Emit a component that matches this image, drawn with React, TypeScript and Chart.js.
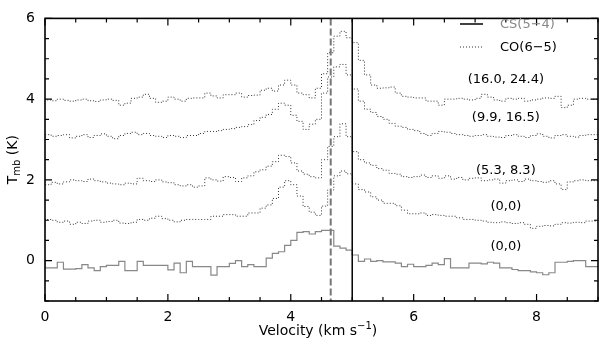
import React, { useEffect, useRef } from 'react';
import { Chart, registerables } from 'chart.js';
Chart.register(...registerables);

// Channel grid (km/s)
const channelStart = 0;
const channelWidth = 0.1;

// CS(5-4) at (0,0)
const csValues = [
  0.02, -0.18, -0.18, -0.04, -0.21, -0.21, -0.2, -0.1, -0.18, -0.25,
  -0.15, -0.12, -0.12, -0.02, -0.25, -0.25, -0.02, -0.12, -0.12, -0.12,
  -0.12, -0.23, -0.06, -0.3, -0.02, -0.15, -0.15, -0.15, -0.36, -0.15,
  -0.15, -0.07, 0.0, -0.15, -0.1, -0.15, -0.15, 0.06, 0.18, 0.22,
  0.38, 0.5, 0.7, 0.72, 0.66, 0.72, 0.75, 0.75, 0.36, 0.31,
  0.26, 0.14, -0.02, 0.04, -0.02, 0.0, -0.03, -0.03, -0.06, -0.15,
  -0.09, -0.15, -0.15, -0.12, -0.06, -0.1, 0.05, -0.18, -0.18, -0.18,
  -0.06, -0.06, -0.08, -0.04, -0.06, -0.18, -0.18, -0.22, -0.25, -0.25,
  -0.28, -0.3, -0.35, -0.3, -0.04, -0.04, -0.02, 0.0, 0.0, -0.15,
];

// CO(6-5) at (0,0), offset +1
const co00Values = [
  0.85, 1.02, 1.0, 0.95, 0.98, 0.9, 0.95, 0.92, 0.98, 1.0,
  0.95, 0.97, 1.0, 0.93, 0.92, 0.95, 1.02, 1.0, 1.05, 1.1,
  1.04, 1.0, 0.96, 1.0, 1.02, 1.02, 1.02, 1.02, 1.1, 1.1,
  1.14, 1.14, 1.1, 1.1, 1.18, 1.18, 1.3, 1.38, 1.54, 1.82,
  1.98, 1.88, 1.6, 1.34, 1.2, 1.12, 1.35, 1.75, 2.1, 2.22,
  2.15, 1.9, 1.76, 1.7, 1.58, 1.5, 1.42, 1.42, 1.36, 1.25,
  1.16, 1.16, 1.18, 1.12, 1.14, 1.12, 1.1, 1.1, 1.06, 1.02,
  1.02, 1.0, 0.98, 0.95, 0.94, 0.96, 0.94, 0.92, 0.94, 0.9,
  0.8, 0.85, 0.87, 0.86, 0.9, 0.94, 0.93, 0.95, 0.94, 0.98,
];

// CO(6-5) at (5.3, 8.3), offset +2
const co53Values = [
  1.95, 1.88, 1.94, 1.9, 1.95, 2.0, 1.98, 1.96, 2.02, 1.98,
  1.95, 1.92, 1.9, 1.88, 1.92, 1.9, 2.04, 1.98, 1.96, 2.0,
  1.95, 1.93, 1.88, 1.85, 1.88, 1.82, 1.85, 2.05, 2.0, 1.97,
  2.08, 2.06, 1.96, 2.05, 2.1, 2.2, 2.25, 2.34, 2.45, 2.61,
  2.58, 2.42, 2.22, 2.14, 2.08, 2.05, 2.5, 2.83, 3.07, 3.39,
  3.07, 2.7, 2.5, 2.42, 2.36, 2.28, 2.24, 2.16, 2.14, 2.08,
  2.06, 2.08, 2.12, 2.06, 2.1, 2.04, 2.1, 2.02, 2.06, 2.0,
  2.04, 2.05, 1.98, 2.0, 2.02, 1.92, 1.98, 2.0, 1.96, 2.02,
  1.98, 1.96, 1.94, 1.98, 1.9, 1.76, 1.95, 1.98, 2.0, 1.98,
];

// CO(6-5) at (9.9, 16.5), offset +3
const co99Values = [
  3.05, 3.12, 3.08, 3.1, 3.12, 3.04, 3.08, 3.12, 3.05, 3.1,
  3.14, 3.08, 3.02, 3.1, 3.15, 3.18, 3.12, 3.15, 3.1, 3.08,
  3.05, 3.1, 3.08, 3.05, 3.1, 3.1, 3.15, 3.2, 3.2, 3.22,
  3.25, 3.27, 3.3, 3.32, 3.37, 3.47, 3.55, 3.62, 3.75, 3.9,
  3.85, 3.6, 3.45, 3.25, 3.38, 3.5, 4.15, 4.55, 4.8, 4.86,
  4.6, 4.25, 3.95, 3.75, 3.67, 3.57, 3.5, 3.4, 3.33, 3.3,
  3.25, 3.22, 3.15, 3.1, 3.15, 3.2, 3.18, 3.15, 3.12, 3.1,
  3.08, 3.1, 3.12, 3.08, 3.06, 3.05, 3.1, 3.12, 3.08, 3.05,
  3.1, 3.14, 3.08, 3.04, 3.1, 3.12, 3.08, 3.06, 3.1, 3.12,
];

// CO(6-5) at (16.0, 24.4), offset +4
const co160Values = [
  4.0, 3.98, 3.96, 4.0, 3.97, 3.95, 3.98, 4.0, 3.96, 3.94,
  3.98, 4.0, 3.97, 3.85, 3.9, 4.02, 4.05, 4.12, 4.02, 3.92,
  3.95, 4.05, 4.0, 3.95, 4.02, 4.03, 4.03, 4.15, 4.08, 4.03,
  4.11, 4.11, 4.15, 4.05, 4.09, 4.1, 4.22, 4.27, 4.2, 4.35,
  4.47, 4.35, 4.15, 4.11, 4.03, 4.27, 4.63, 5.15, 5.56, 5.68,
  5.52, 5.4, 4.96, 4.6, 4.35, 4.27, 4.28, 4.3, 4.15, 4.07,
  4.05, 4.03, 4.03, 3.95, 3.95, 3.85, 4.0, 4.0, 4.02, 4.0,
  3.98, 4.02, 4.12, 4.05, 3.98, 3.95, 4.02, 4.0, 4.02, 3.95,
  3.98, 4.0, 4.03, 4.02, 4.07, 3.79, 3.85, 4.0, 4.02, 4.0,
];

const xMajorTicks = [0, 2, 4, 6, 8];
const yMajorTicks = [0, 2, 4, 6];
const xRange = [0, 9];
const yRange = [-1, 6];
const minorStep = 0.5;

const dashedLineV = 4.65;
const solidLineV = 5.0;

const positionLabels = ['(16.0, 24.4)', '(9.9, 16.5)', '(5.3, 8.3)', '(0,0)', '(0,0)'];
const positionLabelY = [4.49, 3.53, 2.24, 1.35, 0.34];
const positionLabelX = 7.5;

const legendLabels = ['CS(5\u22124)', 'CO(6\u22125)'];

const FONT = "'DejaVu Sans', 'Liberation Sans', Arial, sans-serif";

function toSteps(values: number[]) {
  const pts = values.map((v, i) => ({ x: channelStart + i * channelWidth, y: v }));
  pts.push({ x: channelStart + values.length * channelWidth, y: values[values.length - 1] });
  return pts;
}

const decorPlugin = {
  id: 'decor',
  afterDatasetsDraw(chart: any) {
    const { ctx, chartArea: a, scales } = chart;
    const x = scales.x;
    const y = scales.y;
    ctx.save();

    // vertical reference lines
    ctx.strokeStyle = '#777';
    ctx.lineWidth = 2;
    ctx.setLineDash([7, 3]);
    const xd = x.getPixelForValue(dashedLineV);
    ctx.beginPath();
    ctx.moveTo(xd, a.top);
    ctx.lineTo(xd, a.bottom);
    ctx.stroke();
    ctx.setLineDash([]);
    ctx.strokeStyle = '#000';
    ctx.lineWidth = 1.5;
    const xs = x.getPixelForValue(solidLineV);
    ctx.beginPath();
    ctx.moveTo(xs, a.top);
    ctx.lineTo(xs, a.bottom);
    ctx.stroke();

    // frame
    ctx.lineWidth = 1.6;
    ctx.strokeRect(a.left, a.top, a.right - a.left, a.bottom - a.top);

    // ticks (inward, all four sides)
    ctx.lineWidth = 1.2;
    ctx.beginPath();
    for (let v = xRange[0]; v <= xRange[1] + 1e-6; v += minorStep) {
      const px = x.getPixelForValue(v);
      const len = xMajorTicks.some((t) => Math.abs(t - v) < 1e-6) ? 7 : 4;
      ctx.moveTo(px, a.bottom);
      ctx.lineTo(px, a.bottom - len);
      ctx.moveTo(px, a.top);
      ctx.lineTo(px, a.top + len);
    }
    for (let v = yRange[0]; v <= yRange[1] + 1e-6; v += minorStep) {
      const py = y.getPixelForValue(v);
      const len = yMajorTicks.some((t) => Math.abs(t - v) < 1e-6) ? 7 : 4;
      ctx.moveTo(a.left, py);
      ctx.lineTo(a.left + len, py);
      ctx.moveTo(a.right, py);
      ctx.lineTo(a.right - len, py);
    }
    ctx.stroke();

    // legend
    ctx.lineWidth = 1.5;
    ctx.strokeStyle = '#000';
    ctx.beginPath();
    ctx.moveTo(460, 24);
    ctx.lineTo(483, 24);
    ctx.stroke();
    ctx.lineWidth = 1;
    ctx.strokeStyle = '#333';
    ctx.setLineDash([1, 2]);
    ctx.beginPath();
    ctx.moveTo(460, 47);
    ctx.lineTo(483, 47);
    ctx.stroke();
    ctx.setLineDash([]);
    ctx.font = `13px ${FONT}`;
    ctx.textBaseline = 'middle';
    ctx.textAlign = 'left';
    ctx.fillStyle = '#888';
    ctx.fillText(legendLabels[0], 500, 25);
    ctx.fillStyle = '#000';
    ctx.fillText(legendLabels[1], 500, 48);

    // position labels
    ctx.textAlign = 'center';
    positionLabels.forEach((t, i) => {
      ctx.fillText(t, x.getPixelForValue(positionLabelX), y.getPixelForValue(positionLabelY[i]));
    });

    // x title with superscript
    ctx.textBaseline = 'alphabetic';
    ctx.textAlign = 'left';
    const p1 = 'Velocity (km s';
    const sup = '\u22121';
    const p2 = ')';
    ctx.font = `14px ${FONT}`;
    const w1 = ctx.measureText(p1).width;
    const w3 = ctx.measureText(p2).width;
    ctx.font = `10px ${FONT}`;
    const w2 = ctx.measureText(sup).width;
    const total = w1 + w2 + w3;
    let sx = 318 - total / 2;
    const base = 335;
    ctx.font = `14px ${FONT}`;
    ctx.fillText(p1, sx, base);
    sx += w1;
    ctx.font = `10px ${FONT}`;
    ctx.fillText(sup, sx, base - 6);
    sx += w2;
    ctx.font = `14px ${FONT}`;
    ctx.fillText(p2, sx, base);

    // y title with subscript (rotated)
    ctx.translate(13, (a.top + a.bottom) / 2);
    ctx.rotate(-Math.PI / 2);
    const q1 = 'T';
    const sub = 'mb';
    const q2 = ' (K)';
    ctx.font = `14px ${FONT}`;
    const u1 = ctx.measureText(q1).width;
    const u3 = ctx.measureText(q2).width;
    ctx.font = `10px ${FONT}`;
    const u2 = ctx.measureText(sub).width;
    let ty = -(u1 + u2 + u3) / 2;
    ctx.textBaseline = 'middle';
    ctx.font = `14px ${FONT}`;
    ctx.fillText(q1, ty, 0);
    ty += u1;
    ctx.font = `10px ${FONT}`;
    ctx.fillText(sub, ty, 4);
    ty += u2;
    ctx.font = `14px ${FONT}`;
    ctx.fillText(q2, ty, 0);

    ctx.restore();
  },
};

export default function App() {
  const ref = useRef<HTMLCanvasElement | null>(null);
  useEffect(() => {
    if (!ref.current) return;
    Chart.defaults.font.family = FONT;
    Chart.defaults.font.size = 14;
    Chart.defaults.color = '#000';
    const dotted = (values: number[]) => ({
      data: toSteps(values),
      stepped: 'after' as const,
      borderColor: '#333',
      borderWidth: 1,
      borderDash: [1, 2],
      pointRadius: 0,
      fill: false,
    });
    const chart = new Chart(ref.current, {
      type: 'line',
      data: {
        datasets: [
          {
            data: toSteps(csValues),
            stepped: 'after',
            borderColor: '#888',
            borderWidth: 1.2,
            pointRadius: 0,
            fill: false,
          },
          dotted(co00Values),
          dotted(co53Values),
          dotted(co99Values),
          dotted(co160Values),
        ],
      },
      options: {
        animation: false,
        responsive: false,
        maintainAspectRatio: false,
        layout: { padding: { top: 11, right: 2, left: 0, bottom: 0 } },
        plugins: { legend: { display: false }, tooltip: { enabled: false } },
        scales: {
          x: {
            type: 'linear',
            min: xRange[0],
            max: xRange[1],
            grid: { display: false, drawTicks: false },
            border: { display: false },
            ticks: { padding: 8, font: { size: 14 }, color: '#000', maxRotation: 0 },
            afterBuildTicks: (s: any) => {
              s.ticks = xMajorTicks.map((v) => ({ value: v }));
            },
            afterFit: (s: any) => {
              s.height = 38;
            },
          },
          y: {
            type: 'linear',
            min: yRange[0],
            max: yRange[1],
            grid: { display: false, drawTicks: false },
            border: { display: false },
            ticks: { padding: 10, font: { size: 14 }, color: '#000' },
            afterBuildTicks: (s: any) => {
              s.ticks = yMajorTicks.map((v) => ({ value: v }));
            },
            afterFit: (s: any) => {
              s.width = 45;
            },
          },
        },
      },
      plugins: [decorPlugin],
    });
    return () => chart.destroy();
  }, []);
  return (
    <div style={{ position: 'fixed', left: 0, top: 0, width: 600, height: 339, background: '#fff' }}>
      <canvas ref={ref} width={600} height={339} style={{ width: 600, height: 339 }} />
    </div>
  );
}
